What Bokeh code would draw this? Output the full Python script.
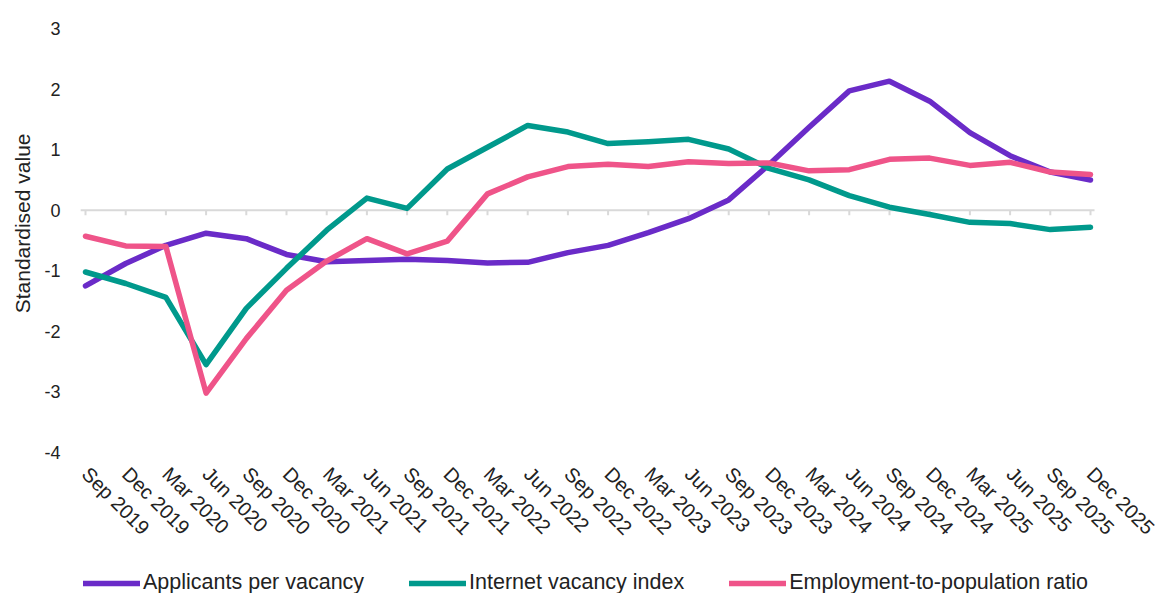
import math
from bokeh.plotting import figure
from bokeh.models import FixedTicker, Legend, LegendItem, ColumnDataSource, Range1d, Title
from bokeh.core.properties import value
from bokeh.embed import file_html
from bokeh.resources import INLINE

quarters = ["Sep 2019", "Dec 2019", "Mar 2020", "Jun 2020", "Sep 2020", "Dec 2020",
            "Mar 2021", "Jun 2021", "Sep 2021", "Dec 2021", "Mar 2022", "Jun 2022",
            "Sep 2022", "Dec 2022", "Mar 2023", "Jun 2023", "Sep 2023", "Dec 2023",
            "Mar 2024", "Jun 2024", "Sep 2024", "Dec 2024", "Mar 2025", "Jun 2025",
            "Sep 2025", "Dec 2025"]
applicants = [-1.25, -0.88, -0.58, -0.38, -0.47, -0.73, -0.85, -0.83, -0.81, -0.83,
              -0.87, -0.86, -0.70, -0.58, -0.37, -0.14, 0.17, 0.75, 1.37, 1.97,
              2.13, 1.80, 1.28, 0.90, 0.63, 0.50]
internet = [-1.02, -1.21, -1.44, -2.55, -1.62, -0.96, -0.33, 0.20, 0.03, 0.68,
            1.04, 1.40, 1.29, 1.10, 1.13, 1.17, 1.01, 0.69, 0.50, 0.24,
            0.05, -0.07, -0.20, -0.22, -0.32, -0.28]
employment = [-0.43, -0.59, -0.60, -3.02, -2.12, -1.32, -0.84, -0.47, -0.72, -0.51,
              0.27, 0.55, 0.72, 0.76, 0.72, 0.80, 0.77, 0.78, 0.65, 0.67,
              0.84, 0.86, 0.74, 0.79, 0.63, 0.59]
y_ticks = [-4, -3, -2, -1, 0, 1, 2, 3]
y_tick_labels = ["-4", "-3", "-2", "-1", "0", "1", "2", "3"]
y_title = "Standardised value"
series_names = ["Applicants per vacancy", "Internet vacancy index", "Employment-to-population ratio"]
colors = ["#6a2bc8", "#00998c", "#ef5489"]

FONT = "Liberation Sans"
TXT = "#222222"

# layout constants (pixels)
FRAME_W, FRAME_H = 1094, 565
PX_PER_UNIT = 424 / 7.0           # y: value 3 -> 28px, value -4 -> 452px
PX_PER_CAT = 40.2
Y_MIN = -4 - (FRAME_H - 424) / PX_PER_UNIT
X_MIN = -0.4975
X_MAX = X_MIN + FRAME_W / PX_PER_CAT
LABEL_Y = -4 - 18 / PX_PER_UNIT   # rotated category labels just below the plot area
TICK_Y = -5 / PX_PER_UNIT

xs = list(range(len(quarters)))
src = ColumnDataSource(dict(x=xs, a=applicants, i=internet, e=employment,
                            zero=[0.0] * len(xs), tick=[TICK_Y] * len(xs),
                            lab=quarters, laby=[LABEL_Y] * len(xs)))

p = figure(frame_width=FRAME_W, frame_height=FRAME_H,
           x_range=Range1d(X_MIN, X_MAX), y_range=Range1d(Y_MIN, 3),
           output_backend="svg", toolbar_location=None,
           min_border_left=62, min_border_top=28, min_border_right=0,
           min_border_bottom=0)
p.outline_line_color = None
p.xgrid.visible = False
p.ygrid.visible = False
p.background_fill_color = "white"
p.border_fill_color = "white"
p.xaxis.visible = False

# zero axis line and tick marks
p.segment(x0=-0.12, y0=0, x1=25.1, y1=0, line_color="#d9d9d9", line_width=2)
p.segment(x0="x", y0="zero", x1="x", y1="tick", source=src, line_color="#d9d9d9", line_width=2)

renderers = []
for col, c in zip(["a", "i", "e"], colors):
    r = p.line("x", col, source=src, line_color=c, line_width=5.5,
               line_join="round", line_cap="round")
    renderers.append(r)

# rotated category labels
p.text(x="x", y="laby", text="lab", source=src, angle=-math.pi / 4,
       text_align="left", text_baseline="middle",
       text_font=value(FONT), text_font_size=value("20px"), text_color=TXT)

# y axis
p.yaxis.bounds = (-4, 3)
p.yaxis.ticker = FixedTicker(ticks=y_ticks)
p.yaxis.major_label_overrides = dict(zip(y_ticks, y_tick_labels))
p.yaxis.axis_line_color = None
p.yaxis.major_tick_line_color = None
p.yaxis.minor_tick_line_color = None
p.yaxis.major_tick_out = 0
p.yaxis.major_tick_in = 0
p.yaxis.major_label_text_font = FONT
p.yaxis.major_label_text_font_size = "18px"
p.yaxis.major_label_text_color = TXT
p.yaxis.major_label_standoff = 5

# y-axis title, positioned alongside the -4..3 part of the axis
p.add_layout(Title(text=y_title, align="right", offset=105, standoff=16,
                   text_font=FONT, text_font_size="21px", text_font_style="normal",
                   text_color=TXT), "left")

legend = Legend(items=[LegendItem(label=n, renderers=[r]) for n, r in zip(series_names, renderers)],
                orientation="horizontal", location=(18, -2),
                margin=0, padding=0, spacing=45,
                glyph_width=57, glyph_height=22, label_height=22, label_standoff=3,
                label_text_font=FONT, label_text_font_size="21.5px", label_text_color=TXT,
                border_line_color=None, background_fill_alpha=0)
p.add_layout(legend, "center")

open("out.html", "w").write(file_html(p, INLINE))
